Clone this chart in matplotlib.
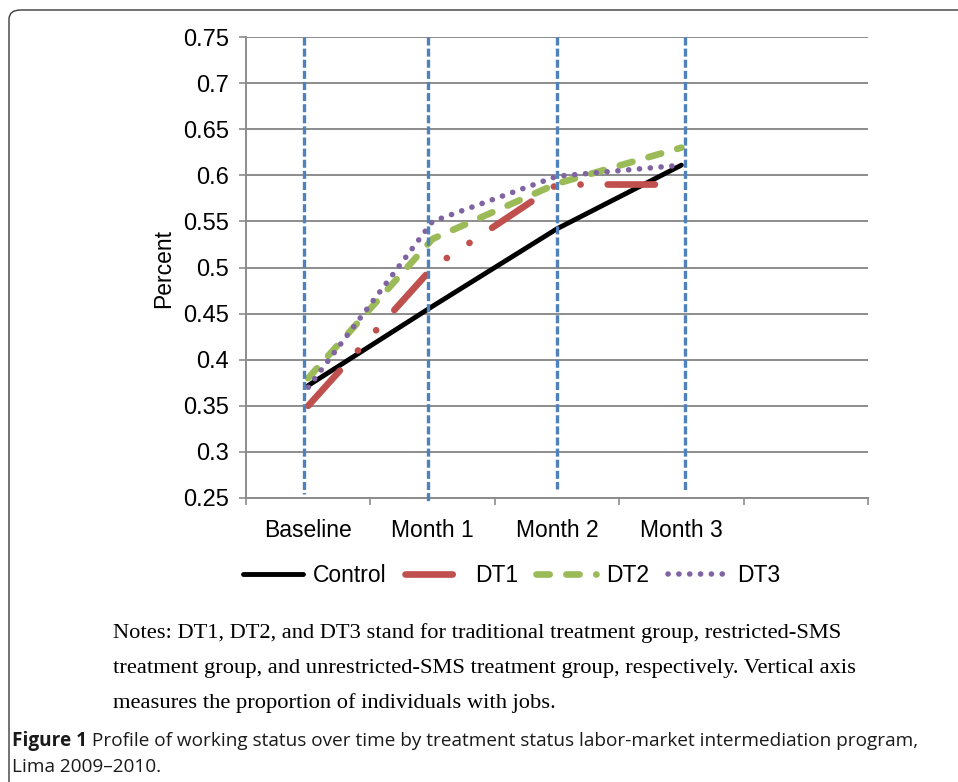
import matplotlib
matplotlib.use("Agg")
import matplotlib.pyplot as plt
from matplotlib.patches import FancyBboxPatch
from matplotlib.ticker import FixedLocator, FixedFormatter

plt.rcParams['lines.scale_dashes'] = False
plt.rcParams['font.family'] = ['Liberation Sans', 'DejaVu Sans']

W, H = 958, 782

categories = ['Baseline', 'Month 1', 'Month 2', 'Month 3', '']
series_names = ['Control', 'DT1', 'DT2', 'DT3']
control = [0.372, 0.458, 0.542, 0.611]
dt1 = [0.350, 0.500, 0.590, 0.590]
dt2 = [0.380, 0.531, 0.591, 0.630]
dt3 = [0.370, 0.550, 0.599, 0.611]
y_ticks = [0.25, 0.3, 0.35, 0.4, 0.45, 0.5, 0.55, 0.6, 0.65, 0.7, 0.75]
y_tick_labels = ['0.25', '0.3', '0.35', '0.4', '0.45', '0.5', '0.55', '0.6', '0.65', '0.7', '0.75']
# hand-drawn vertical reference lines (x position, lower end)
vline_x = [-0.034, 0.963, 2.0, 3.03]
vline_bottom = [0.2543, 0.2457, 0.2598, 0.2576]

notes_lines = [
    "Notes: DT1, DT2, and DT3 stand for traditional treatment group, restricted-SMS",
    "treatment group, and unrestricted-SMS treatment group, respectively. Vertical axis",
    "measures the proportion of individuals with jobs.",
]
caption_bold = "Figure 1"
caption_rest = " Profile of working status over time by treatment status labor-market intermediation program,"
caption_line2 = "Lima 2009\u20132010."

def fx(px):
    return px / W

def fy(py):
    return 1 - py / H

fig = plt.figure(figsize=(W / 100, H / 100), dpi=100)
fig.patch.set_facecolor('white')

# outer rounded frame
frame = FancyBboxPatch((fx(9), fy(800)), fx(990) - fx(9), fy(10) - fy(800),
                       boxstyle="round,pad=0,rounding_size=0.012",
                       transform=fig.transFigure, fill=False,
                       edgecolor='#3a3a3a', linewidth=1.0, clip_on=False)
fig.patches.append(frame)

ax = fig.add_axes([fx(246), fy(498), fx(868) - fx(246), fy(37) - fy(498)])
x = list(range(len(control)))
grid_c = '#8c8c8c'

l0, = ax.plot(x, control, color='black', lw=3.5, solid_capstyle='round', label=series_names[0], zorder=3)
l1, = ax.plot(x, dt1, color='#C0504D', lw=4.8, dash_capstyle='round', label=series_names[1], zorder=3)
l1.set_dashes((34, 19.5, 0.1, 19.5, 0.1, 19.5))
l2, = ax.plot(x, dt2, color='#9BBB59', lw=4.8, dash_capstyle='round', label=series_names[2], zorder=3)
l2.set_dashes((9.5, 12))
l3, = ax.plot(x, dt3, color='#8064A2', lw=4.0, dash_capstyle='round', label=series_names[3], zorder=3)
l3.set_dashes((0.1, 7.7))

for vx, vb in zip(vline_x, vline_bottom):
    v, = ax.plot([vx, vx], [0.75, vb], color='#4F81BD', lw=2.4, zorder=5, clip_on=False)
    v.set_dashes((5.8, 2.2))

ax.set_xlim(-0.5, len(categories) - 0.5)
ax.set_ylim(0.25, 0.75)
ax.yaxis.set_major_locator(FixedLocator(y_ticks))
ax.yaxis.set_major_formatter(FixedFormatter(y_tick_labels))
ax.grid(axis='y', color=grid_c, lw=1.4, zorder=0)
ax.set_axisbelow(True)

ax.set_xticks(range(len(categories)))
ax.set_xticklabels(categories)
ax.set_xticks([i - 0.5 for i in range(len(categories) + 1)], minor=True)
ax.tick_params(axis='x', which='major', length=0, pad=15, labelsize=16.5)
ax.tick_params(axis='x', which='minor', length=5, width=1.2, color=grid_c, direction='out')
ax.tick_params(axis='y', which='major', length=5, width=1.2, color=grid_c, direction='out', pad=7, labelsize=17)

for s in ['top', 'right']:
    ax.spines[s].set_visible(False)
for s in ['left', 'bottom']:
    ax.spines[s].set_color(grid_c)
    ax.spines[s].set_linewidth(1.4)

fig.text(fx(164), fy(268), 'Percent', rotation=90, ha='center', va='center', fontsize=16.5)

fig.legend(handles=[l0, l1, l2, l3], labels=series_names, loc='center',
           bbox_to_anchor=(fx(512), fy(576)), ncol=4, frameon=False, fontsize=16.5,
           handlelength=2.6, handletextpad=0.45, columnspacing=0.8, borderaxespad=0)

for i, line in enumerate(notes_lines):
    fig.text(fx(113), fy(633 + 35 * i), line, ha='left', va='center',
             fontsize=16.2, family=['Liberation Serif', 'DejaVu Serif'])

cap_kw = dict(ha='left', va='center', fontsize=13.7, family=['Open Sans', 'DejaVu Sans'], color='#1a1a1a')
t1 = fig.text(fx(12), fy(741), caption_bold, fontweight='bold', **cap_kw)
fig.canvas.draw()
r = fig.canvas.get_renderer()
bb = t1.get_window_extent(renderer=r)
fig.text(bb.x1 / W, fy(741), caption_rest, **cap_kw)
fig.text(fx(12), fy(767), caption_line2, **cap_kw)

fig.savefig('out.png', dpi=100, facecolor='white')
